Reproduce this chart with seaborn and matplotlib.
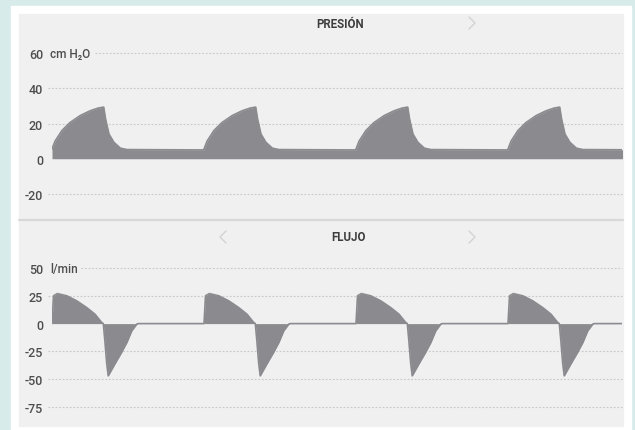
import matplotlib
matplotlib.use("Agg")
import matplotlib.pyplot as plt
import seaborn as sns
import numpy as np
import pandas as pd
from matplotlib.patches import Rectangle
from matplotlib.lines import Line2D

# one breathing cycle (seconds from cycle start)
pressure_t = [0.00, 0.08, 0.26, 0.47, 0.74, 1.00, 1.22, 1.36, 1.41, 1.50, 1.63, 1.80, 1.97, 4.00]
pressure_v = [5.5, 10, 16, 20.5, 24.5, 27.2, 28.8, 29.3, 22.5, 14, 9.3, 6, 5.2, 5]

flow_t = [0.00, 0.04, 0.14, 0.39, 0.65, 0.91, 1.13, 1.31, 1.35, 1.39, 1.44, 1.48,
          1.66, 1.83, 1.97, 2.10, 2.23, 2.27, 4.00]
flow_v = [0, 25, 27, 25, 20.5, 14.5, 8.5, 1, 0, -15, -36, -47,
          -36, -26, -17, -6.5, -0.5, 0, 0]

cycle_starts = [0, 4, 8, 12]

pressure_ticks = [60, 40, 20, 0, -20]
flow_ticks = [50, 25, 0, -25, -50, -75]

W, H = 635, 431
MINT = "#d7ecea"
PANEL = "#f0f0f1"
FILL = "#8b8b8f"
GRID = "#c9c9c9"
TEXT = "#4d4d4d"


def box(l, t, r, b):
    return [l / W, 1 - b / H, (r - l) / W, (b - t) / H]


def build(t_cycle, v_cycle):
    rows = []
    for s in cycle_starts:
        for t, v in zip(t_cycle, v_cycle):
            rows.append((s + t, v))
    return pd.DataFrame(rows, columns=["t", "v"])


sns.set_theme(style="white")
plt.rcParams["font.family"] = ["Roboto", "DejaVu Sans"]

fig = plt.figure(figsize=(W / 100, H / 100), dpi=100, facecolor=MINT)
fig.add_artist(Rectangle((11 / W, 0), (631 - 11) / W, (H - 7) / H,
                         transform=fig.transFigure, color="white", zorder=0))
fig.add_artist(Rectangle((19 / W, 4 / H), (623 - 19) / W, 412 / H,
                         transform=fig.transFigure, color=PANEL, zorder=0))
fig.add_artist(Line2D([19 / W, 623 / W], [1 - 221 / H, 1 - 221 / H],
                      transform=fig.transFigure, color="#d8d8d8", lw=1.6))

press = build(pressure_t, pressure_v)
flow = build(flow_t, flow_v)

panels = [
    (box(52, 36.4, 622, 212.6), press, (-30, 70), pressure_ticks, 60, 1.13, "cm H\u2082O"),
    (box(52, 257.9, 622, 419.1), flow, (-85, 60), flow_ticks, 50, 0.76, "l/min"),
]

for rect, df, ylim, ticks, top_tick, top_start, unit in panels:
    ax = fig.add_axes(rect)
    ax.set_facecolor("none")
    for y in ticks:
        if y == 0:
            continue
        x0 = top_start if y == top_tick else -0.1
        ax.hlines(y, x0, 15, colors=GRID, linestyles=(0, (1.6, 1.6)), lw=0.8,
                  clip_on=False, zorder=1)
    ax.fill_between(df["t"], 0, df["v"], color=FILL, lw=0, zorder=2)
    sns.lineplot(data=df, x="t", y="v", ax=ax, color=FILL, lw=1.2,
                 estimator=None, sort=False, zorder=3)
    ax.set_xlim(0, 15)
    ax.set_ylim(*ylim)
    ax.set_yticks(ticks)
    ax.set_yticklabels([str(t) for t in ticks], fontweight="medium")
    ax.set_xticks([])
    ax.set_xlabel("")
    ax.set_ylabel("")
    ax.tick_params(axis="y", length=0, pad=6.5, labelsize=9, labelcolor=TEXT)
    sns.despine(ax=ax, left=True, bottom=True)
    ax.text(-0.05, top_tick, unit, fontsize=8.5, color=TEXT, va="center",
            ha="left", fontweight="medium", transform=ax.transData)

fig.text(340 / W, 1 - 24 / H, "PRESIÓN", ha="center", va="center",
         fontsize=8.3, fontweight="bold", color="#3d3d3d")
fig.text(349 / W, 1 - 238 / H, "FLUJO", ha="center", va="center",
         fontsize=8.3, fontweight="bold", color="#3d3d3d")

# chevrons
for pts in ([(469, 18), (475, 24), (469, 30)],
            [(469, 232), (475, 238), (469, 244)],
            [(226, 232), (220, 238), (226, 244)]):
    xs = [p[0] / W for p in pts]
    ys = [1 - p[1] / H for p in pts]
    fig.add_artist(Line2D(xs, ys, transform=fig.transFigure, color="#d3d3d3", lw=1))

fig.savefig("out.png", dpi=100, facecolor=MINT)
